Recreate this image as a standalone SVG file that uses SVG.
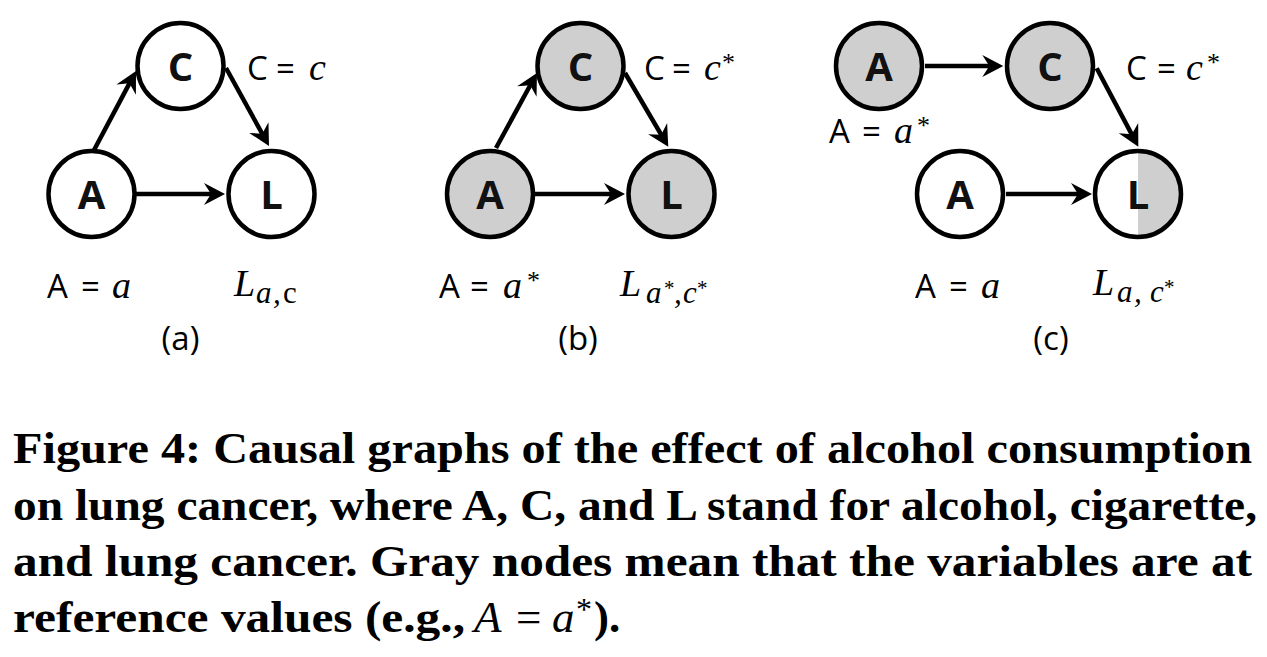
<svg xmlns="http://www.w3.org/2000/svg" width="1267" height="657" viewBox="0 0 1267 657">
<style>
.n{stroke:#000;stroke-width:4.5;fill:#fff}
.g{fill:#d0cfcf}
.nl{font-family:"Open Sans","Noto Sans",sans-serif;font-weight:bold;font-size:40px;text-anchor:middle;fill:#111}
.e{stroke:#000;stroke-width:4.5;fill:none;marker-end:url(#ah)}
.s{font-family:"Open Sans","Noto Sans",sans-serif;font-size:33px;fill:#000}
.m{font-family:"Liberation Serif","Times New Roman",serif;font-style:italic;font-size:38px;fill:#000}
.ms{font-family:"Liberation Serif","Times New Roman",serif;font-style:italic;font-size:31px;fill:#000}
.r{font-family:"Liberation Serif","Times New Roman",serif;font-size:31px;fill:#000}
.st{font-family:"Liberation Serif","Times New Roman",serif;font-size:26px;fill:#000}
.sst{font-family:"Liberation Serif","Times New Roman",serif;font-size:21px;fill:#000}
.cap{font-family:"Liberation Serif","Times New Roman",serif;font-weight:bold;font-size:45px;fill:#000}
.cm{font-family:"Liberation Serif","Times New Roman",serif;font-size:45px;fill:#000}
</style>
<defs>
<marker id="ah" viewBox="-36 -14 40 28" refX="-12" refY="0" markerWidth="40" markerHeight="28" markerUnits="userSpaceOnUse" orient="auto">
<path d="M0,0 L-21,-11 L-14,0 L-21,11 Z" fill="#000"/>
</marker>
</defs>
<rect width="1267" height="657" fill="#fff"/>

<g id="connectors">
<line class="e" x1="136" y1="194" x2="213" y2="194"/>
<line class="e" x1="93" y1="152" x2="130.4" y2="81.6"/>
<line class="e" x1="226" y1="68" x2="263.2" y2="135.5"/>
<line class="e" x1="535" y1="194" x2="613" y2="194"/>
<line class="e" x1="496" y1="148" x2="531.2" y2="83.5"/>
<line class="e" x1="625" y1="73" x2="662.2" y2="136.4"/>
<line class="e" x1="925" y1="66" x2="991.3" y2="66"/>
<line class="e" x1="1006" y1="194" x2="1080" y2="194"/>
<line class="e" x1="1096.7" y1="68.3" x2="1132.7" y2="136.1"/>
</g>

<g id="a-A"><circle class="n" cx="91.5" cy="194" r="43"/><text class="nl" x="91.5" y="208.5">A</text></g>
<g id="a-C"><circle class="n" cx="180.5" cy="66" r="43"/><text class="nl" x="180.5" y="80.5">C</text></g>
<g id="a-L"><circle class="n" cx="271.5" cy="194" r="43"/><text class="nl" x="271.5" y="208.5">L</text></g>

<g id="b-A"><circle class="n g" cx="490" cy="194" r="43"/><text class="nl" x="490" y="208.5">A</text></g>
<g id="b-C"><circle class="n g" cx="580.5" cy="66" r="43"/><text class="nl" x="580.5" y="80.5">C</text></g>
<g id="b-L"><circle class="n g" cx="671.5" cy="194" r="43"/><text class="nl" x="671.5" y="208.5">L</text></g>

<g id="c-Astar"><circle class="n g" cx="879" cy="66" r="43"/><text class="nl" x="879" y="80.5">A</text></g>
<g id="c-C"><circle class="n g" cx="1050" cy="66" r="43"/><text class="nl" x="1050" y="80.5">C</text></g>
<g id="c-A"><circle class="n" cx="960" cy="194" r="43"/><text class="nl" x="960" y="208.5">A</text></g>
<g id="c-L"><circle cx="1138" cy="194" r="43" fill="#fff"/><path class="g" d="M1138,151 A43,43 0 0 1 1138,237 Z"/><circle cx="1138" cy="194" r="43" style="fill:none;stroke:#000;stroke-width:4.5"/><text class="nl" x="1138" y="208.5">L</text></g>

<g id="labels">
<!-- panel a -->
<text y="80"><tspan class="s" x="247">C</tspan><tspan class="s" x="276">=</tspan><tspan class="m" x="309">c</tspan></text>
<text y="298"><tspan class="s" x="47">A</tspan><tspan class="s" x="81">=</tspan><tspan class="m" x="112">a</tspan></text>
<text y="296"><tspan class="m" x="234">L</tspan><tspan class="ms" x="256" y="303">a</tspan><tspan class="ms" x="273" y="303">,</tspan><tspan class="r" x="283" y="303">c</tspan></text>
<text class="s" x="180.5" y="350" text-anchor="middle">(a)</text>
<!-- panel b -->
<text y="80"><tspan class="s" x="644">C</tspan><tspan class="s" x="672">=</tspan><tspan class="m" x="704">c</tspan><tspan class="st" x="722" y="71">*</tspan></text>
<text y="298"><tspan class="s" x="439">A</tspan><tspan class="s" x="470">=</tspan><tspan class="m" x="503">a</tspan><tspan class="st" x="527" y="289">*</tspan></text>
<text y="296"><tspan class="m" x="620">L</tspan><tspan class="ms" x="646" y="303">a</tspan><tspan class="sst" x="664" y="295">*</tspan><tspan class="ms" x="674" y="303">,</tspan><tspan class="ms" x="683" y="303">c</tspan><tspan class="sst" x="697" y="295">*</tspan></text>
<text class="s" x="578" y="350" text-anchor="middle">(b)</text>
<!-- panel c -->
<text y="80"><tspan class="s" x="1126">C</tspan><tspan class="s" x="1157">=</tspan><tspan class="m" x="1186">c</tspan><tspan class="st" x="1207" y="71">*</tspan></text>
<text y="143"><tspan class="s" x="829">A</tspan><tspan class="s" x="862">=</tspan><tspan class="m" x="894">a</tspan><tspan class="st" x="917" y="134">*</tspan></text>
<text y="298"><tspan class="s" x="915">A</tspan><tspan class="s" x="949">=</tspan><tspan class="m" x="981">a</tspan></text>
<text y="295"><tspan class="m" x="1093">L</tspan><tspan class="ms" x="1117" y="302">a</tspan><tspan class="ms" x="1134" y="302">,</tspan><tspan class="ms" x="1150" y="302">c</tspan><tspan class="sst" x="1164" y="294">*</tspan></text>
<text class="s" x="1051" y="350" text-anchor="middle">(c)</text>
</g>

<g id="caption">
<text class="cap" x="13" y="463" textLength="1239" lengthAdjust="spacingAndGlyphs">Figure 4: Causal graphs of the effect of alcohol consumption</text>
<text class="cap" x="13" y="520" textLength="1244" lengthAdjust="spacingAndGlyphs">on lung cancer, where A, C, and L stand for alcohol, cigarette,</text>
<text class="cap" x="13" y="576" textLength="1239" lengthAdjust="spacingAndGlyphs">and lung cancer. Gray nodes mean that the variables are at</text>
<text class="cap" x="13" y="632" textLength="452" lengthAdjust="spacingAndGlyphs">reference values (e.g.,</text>
<text y="632"><tspan class="cm" x="474" font-style="italic">A</tspan><tspan class="cm" x="516">=</tspan><tspan class="cm" x="552" font-style="italic">a</tspan><tspan class="cm" x="576" y="620" style="font-size:32px">*</tspan><tspan class="cap" x="594" y="632">).</tspan></text>
</g>
</svg>
